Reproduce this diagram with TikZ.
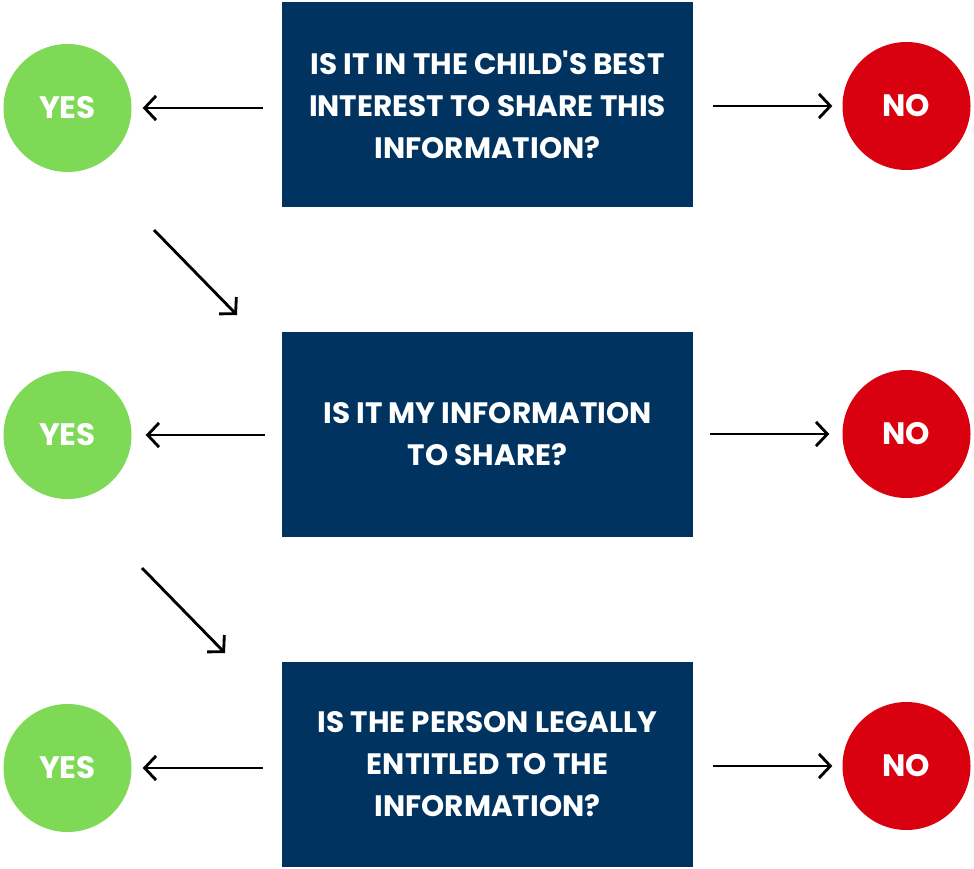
\documentclass[tikz,border=0pt]{standalone}
\usepackage{fontspec}
\newfontfamily\qfont{Poppins}
\usetikzlibrary{arrows.meta}
\definecolor{navy}{HTML}{00335F}
\definecolor{yesgreen}{HTML}{7ED957}
\definecolor{nored}{HTML}{D9000F}
\tikzset{>={Straight Barb[width=8.5mm,length=4mm,line width=1mm]}}
\tikzset{
  question/.style={fill=navy, text=white, minimum width=411pt, minimum height=205pt,
    align=center, font=\qfont\fontsize{29.5}{42}\selectfont\bfseries, inner sep=0pt},
  yes/.style={circle, fill=yesgreen, text=white, minimum size=128pt, inner sep=0pt,
    font=\qfont\fontsize{31}{36}\selectfont\bfseries},
  no/.style={yes, fill=nored},
  flow/.style={draw, ->, line width=1mm}
}

\begin{document}
\begin{tikzpicture}[x=1pt, y=-1pt]
\useasboundingbox (0,0) rectangle (974,869);
% questions
\node (Q1) [question] at (487.5,104.5) {IS IT IN THE CHILD'S BEST\\INTEREST TO SHARE THIS\\INFORMATION?};
\node (Q2) [question] at (487.5,434.5) {IS IT MY INFORMATION\\TO SHARE?};
\node (Q3) [question] at (487.5,764.5) {IS THE PERSON LEGALLY\\ENTITLED TO THE\\INFORMATION?};
% answers
\node (Y1) [yes] at (67.5,108) {YES};
\node (Y2) [yes] at (67.5,435) {YES};
\node (Y3) [yes] at (67.5,768) {YES};
\node (N1) [no] at (906.5,106) {NO};
\node (N2) [no] at (906.5,434) {NO};
\node (N3) [no] at (906.5,766) {NO};
% free ends of the down arrows
\coordinate (d1s) at (154,230);
\coordinate (d1e) at (237,315);
\coordinate (d2s) at (142,568);
\coordinate (d2e) at (225,653);
% arrows
\path [flow, shorten <=19pt, shorten >=11pt] (Q1.west |- Y1) -- (Y1.east);
\path [flow, shorten <=17pt, shorten >=14pt] (Q2.west |- Y2) -- (Y2.east);
\path [flow, shorten <=19pt, shorten >=11pt] (Q3.west |- Y3) -- (Y3.east);
\path [flow, shorten <=20pt, shorten >=10pt] (Q1.east |- N1) -- (N1.west);
\path [flow, shorten <=17pt, shorten >=13pt] (Q2.east |- N2) -- (N2.west);
\path [flow, shorten <=20pt, shorten >=10pt] (Q3.east |- N3) -- (N3.west);
\path [flow] (d1s) -- (d1e);
\path [flow] (d2s) -- (d2e);
\end{tikzpicture}
\end{document}
